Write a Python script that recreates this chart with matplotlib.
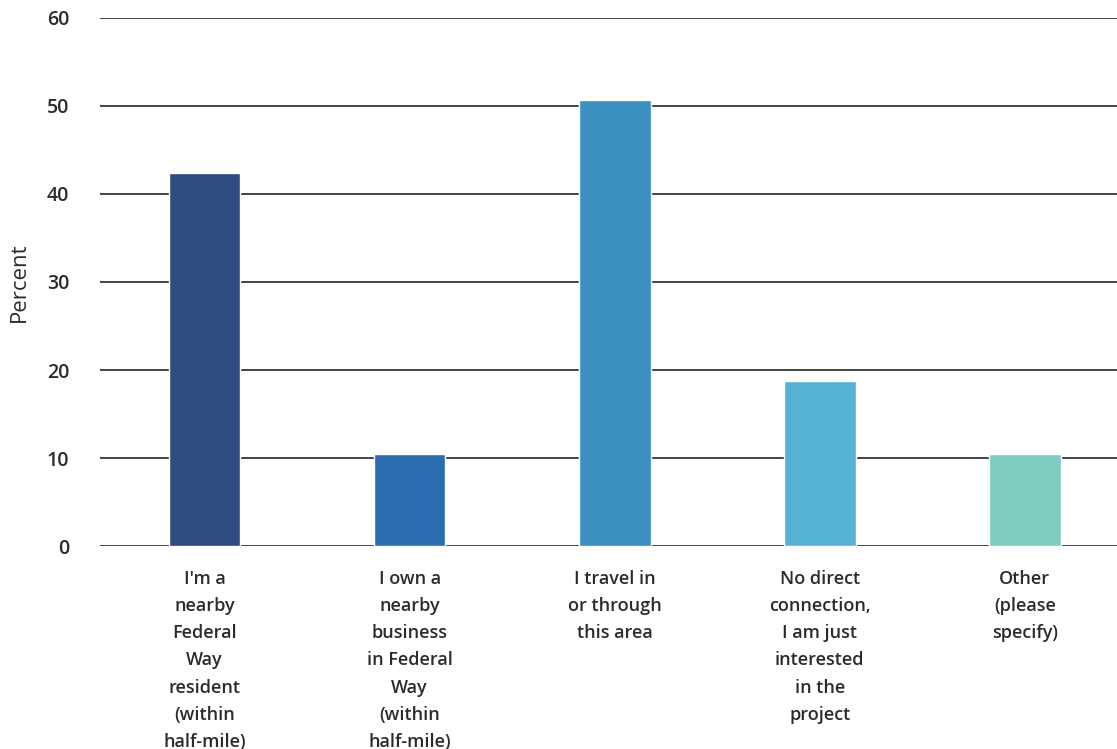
import matplotlib
matplotlib.use("Agg")
import matplotlib.pyplot as plt
import numpy as np

categories = [
	"I'm a\nnearby\nFederal\nWay\nresident\n(within\nhalf-mile)",
	"I own a\nnearby\nbusiness\nin Federal\nWay\n(within\nhalf-mile)",
	"I travel in\nor through\nthis area",
	"No direct\nconnection,\nI am just\ninterested\nin the\nproject",
	"Other\n(please\nspecify)",
]
percent = [42.4, 10.4, 50.7, 18.8, 10.4]
bar_colors = ["#314C7E", "#2B6DAE", "#3990C1", "#56B2D4", "#80CCC2"]

plt.rcParams["font.family"] = ["Open Sans", "DejaVu Sans"]
text_color = "#2b2b2b"

fig = plt.figure(figsize=(11.17, 7.49), dpi=100)
ax = fig.add_axes([0.0895, 0.271, 0.9105, 0.705])

x = np.arange(len(categories))
ax.bar(x, percent, width=0.35, color=bar_colors, edgecolor="white", linewidth=1, zorder=3)

ax.set_xlim(-0.51, 4.45)
ax.set_ylim(0, 60)
ax.set_yticks(np.arange(0, 61, 10))
ax.yaxis.grid(True, color="#444444", linewidth=1.4, zorder=0)
ax.set_axisbelow(True)
for s in ax.spines.values():
	s.set_visible(False)

ax.set_xticks(x)
ax.set_xticklabels(categories, fontsize=13, fontweight="semibold", color=text_color,
	linespacing=1.66, va="top")
ax.tick_params(axis="x", length=0, pad=17)
ax.tick_params(axis="y", length=0, pad=22, labelsize=14, labelcolor=text_color)
for lbl in ax.get_yticklabels():
	lbl.set_fontweight("semibold")
ax.set_ylabel("Percent", fontsize=16, color=text_color, labelpad=12)

plt.savefig("out.png", dpi=100)
